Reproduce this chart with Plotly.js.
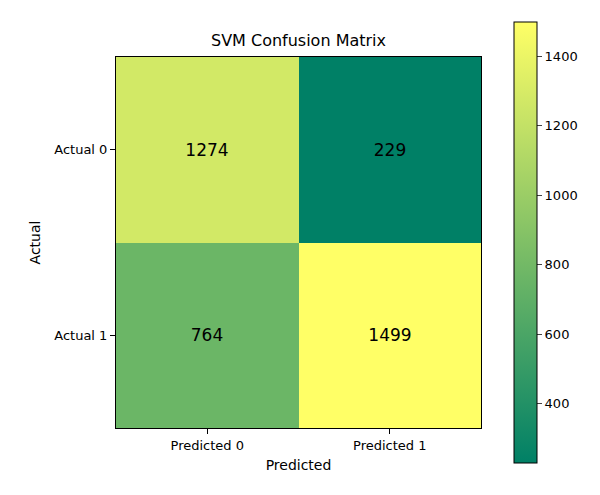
<!DOCTYPE html>
<html>
<head>
<script src="https://cdn.plot.ly/plotly-3.0.1.min.js"></script>
<style>body{margin:0}</style>
</head>
<body>
<div id="plot" style="width:600px;height:495px"></div>
<script>
const predicted = ["Predicted 0", "Predicted 1"]
const actual = ["Actual 0", "Actual 1"]
const counts = [
  [1274, 229],
  [764, 1499]
]
const cbTicks = [400, 600, 800, 1000, 1200, 1400]

const axisStyle = {
  showline: true,
  mirror: true,
  linecolor: "black",
  linewidth: 1,
  ticks: "outside",
  ticklen: 5,
  tickcolor: "black",
  showgrid: false,
  zeroline: false,
  tickfont: { size: 13, color: "black" }
}

const trace = {
  type: "heatmap",
  x: predicted,
  y: actual,
  z: counts,
  colorscale: [[0, "rgb(0,128,102)"], [1, "rgb(255,255,102)"]],
  texttemplate: "%{z}",
  textfont: { size: 17, color: "black" },
  hoverinfo: "none",
  colorbar: {
    x: 1.062, xanchor: "left",
    y: 0.5, yanchor: "middle",
    len: 461, lenmode: "pixels",
    thickness: 23,
    outlinewidth: 1, outlinecolor: "black",
    tickvals: cbTicks,
    ticks: "outside", ticklen: 5,
    tickfont: { size: 13, color: "black" }
  }
}

const layout = {
  width: 600, height: 495,
  margin: { t: 57, b: 67, l: 116, r: 112 },
  paper_bgcolor: "white",
  plot_bgcolor: "white",
  font: { family: "DejaVu Sans", color: "black" },
  title: { text: "SVM Confusion Matrix", font: { size: 16 }, x: 0.5, xref: "paper", y: 0.918, yanchor: "middle" },
  xaxis: Object.assign({}, axisStyle, { title: { text: "Predicted", font: { size: 14 }, standoff: 8 } }),
  yaxis: Object.assign({}, axisStyle, { autorange: "reversed", title: { text: "Actual", font: { size: 14 }, standoff: 10 } })
}

Plotly.newPlot("plot", [trace], layout, { displayModeBar: false })
</script>
</body>
</html>
